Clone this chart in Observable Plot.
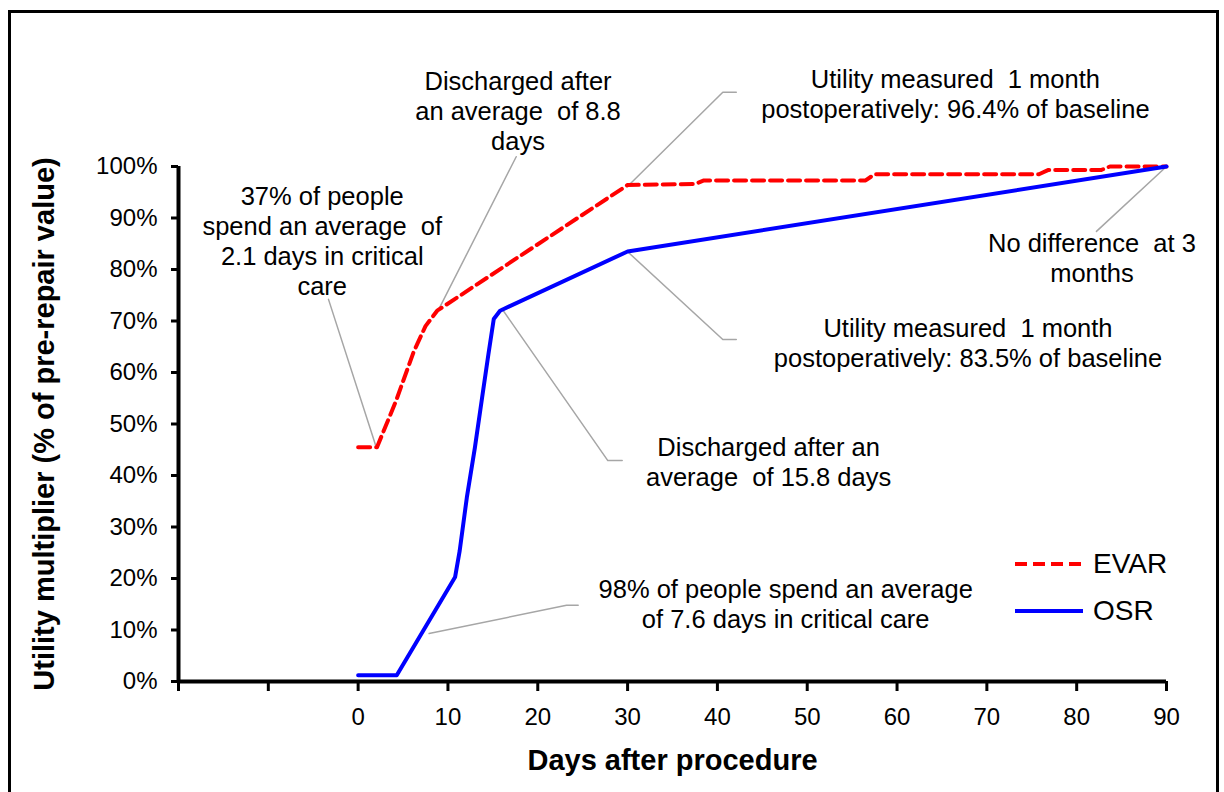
<!DOCTYPE html>
<html>
<head>
<meta charset="utf-8">
<script src="https://cdn.jsdelivr.net/npm/d3@7"></script>
<script src="https://cdn.jsdelivr.net/npm/@observablehq/plot@0.6"></script>
<style>
  html, body { margin: 0; padding: 0; background: #fff; }
  #wrap { position: relative; width: 1224px; height: 792px; overflow: hidden; font-family: "Liberation Sans", Arial, sans-serif; }
  #frame { position: absolute; left: 8px; top: 10px; width: 1211px; height: 800px; border: 3px solid #000; box-sizing: border-box; pointer-events: none; }
  #legend { position: absolute; left: 1013px; top: 540px; font-size: 28px; color: #000; }
  #legend .row { display: flex; align-items: center; height: 47px; }
  #legend svg { margin-right: 8px; }
</style>
</head>
<body>
<div id="wrap">
  <div id="chart"></div>
  <div id="frame"></div>
  <div id="legend"></div>
</div>
<script>
// ---- data ----
const evarDays    = [0, 2.1, 4.2, 6.2, 7.5, 8.8, 30, 37.5, 38.5, 56.5, 57.5, 75.8, 76.8, 82.7, 83.7, 90];
const evarUtility = [45.5, 45.5, 54.4, 64.1, 69, 72, 96.4, 96.6, 97.3, 97.3, 98.5, 98.5, 99.3, 99.3, 100, 100];

const osrDays    = [0, 4.3, 10.8, 11.3, 12.1, 13.0, 13.8, 14.5, 15.1, 15.8, 30, 90];
const osrUtility = [1.2, 1.2, 20.3, 25.3, 35.7, 45.4, 55.1, 63.5, 70.4, 72, 83.5, 100];

const seriesNames = ["EVAR", "OSR"];
const seriesColors = ["#ff0000", "#0000ff"];

const xTicks = [-20, -10, 0, 10, 20, 30, 40, 50, 60, 70, 80, 90];
const yTicks = [0, 10, 20, 30, 40, 50, 60, 70, 80, 90, 100];

const xTitle = "Days after procedure";
const yTitle = "Utility multiplier (% of pre-repair value)";

const noteText = [
  "37% of people\nspend an average  of\n2.1 days in critical\ncare",
  "Discharged after\nan average  of 8.8\ndays",
  "Utility measured  1 month\npostoperatively: 96.4% of baseline",
  "No difference  at 3\nmonths",
  "Utility measured  1 month\npostoperatively: 83.5% of baseline",
  "Discharged after an\naverage  of 15.8 days",
  "98% of people spend an average\nof 7.6 days in critical care"
];
const noteX = [-4.0, 17.8, 66.5, 81.7, 67.9, 45.7, 47.6];
const noteY = [85.6, 110.9, 114.2, 82.4, 65.8, 42.8, 15.2];

// leader lines: [note index, x, y]
const leaderNote = [0, 0, 1, 1, 2, 2, 2, 3, 3, 4, 4, 4, 5, 5, 5, 6, 6, 6];
const leaderX = [-3.3, 2.0, 17.6, 8.9, 30.1, 40.6, 42.1, 90, 82.2, 30.1, 40.6, 42.1, 16.0, 27.8, 29.4, 7.9, 23.2, 24.5];
const leaderY = [74.2, 45.6, 101.9, 72.0, 96.3, 114.4, 114.4, 100, 87.4, 83.3, 66.4, 66.4, 72.4, 42.9, 42.9, 9.3, 14.8, 14.8];

// ---- build tables ----
const evar = evarDays.map((d, i) => ({x: d, y: evarUtility[i]}));
const osr = osrDays.map((d, i) => ({x: d, y: osrUtility[i]}));
const notes = noteText.map((t, i) => ({text: t, x: noteX[i], y: noteY[i]}));
const leaders = leaderNote.map((n, i) => ({n, x: leaderX[i], y: leaderY[i]}));

const font = '"Liberation Sans", Arial, sans-serif';

const chart = Plot.plot({
  width: 1224,
  height: 792,
  marginLeft: 178,
  marginRight: 58,
  marginTop: 166,
  marginBottom: 111,
  style: {fontFamily: font, background: "transparent", color: "#000", overflow: "visible"},
  x: {domain: [-20, 90]},
  y: {domain: [0, 100]},
  marks: [
    Plot.line(leaders, {x: "x", y: "y", z: "n", stroke: "#a6a6a6", strokeWidth: 1.5}),
    Plot.line(evar, {x: "x", y: "y", stroke: seriesColors[0], strokeWidth: 4, strokeDasharray: "12,6"}),
    Plot.line(osr, {x: "x", y: "y", stroke: seriesColors[1], strokeWidth: 4}),
    Plot.text(notes, {x: "x", y: "y", text: "text", fontSize: 25.5, lineHeight: 1.17, fill: "#000", ariaLabel: "annotation"}),
    Plot.axisX({ticks: xTicks, tickSize: 10, tickPadding: 16, strokeWidth: 3, fontSize: 24, tickFormat: d => d < 0 ? "" : String(d), label: null}),
    Plot.axisY({ticks: yTicks, tickSize: 7, tickPadding: 14, strokeWidth: 3, fontSize: 24, tickFormat: d => d + "%", label: null}),
    Plot.ruleY([0], {strokeWidth: 4, stroke: "#000"}),
    Plot.ruleX([-20], {strokeWidth: 4, stroke: "#000"}),
    Plot.text([xTitle], {frameAnchor: "bottom", lineAnchor: "middle", textAnchor: "middle", dy: 79, fontSize: 29, fontWeight: "bold", fill: "#000"}),
    Plot.text([yTitle], {frameAnchor: "left", lineAnchor: "middle", textAnchor: "middle", dx: -134, rotate: -90, fontSize: 29, fontWeight: "bold", fill: "#000"})
  ]
});
document.getElementById("chart").appendChild(chart);
d3.select(chart).selectAll('g[aria-label="annotation"] text').attr("xml:space", "preserve").style("white-space", "pre");

// legend
const legend = document.getElementById("legend");
seriesNames.forEach((name, i) => {
  const row = document.createElement("div");
  row.className = "row";
  const dash = i === 0 ? 'stroke-dasharray="12,6"' : "";
  row.innerHTML = `<svg width="72" height="10"><line x1="2" x2="70" y1="5" y2="5" stroke="${seriesColors[i]}" stroke-width="4" ${dash}/></svg><span>${name}</span>`;
  legend.appendChild(row);
});
</script>
</body>
</html>
